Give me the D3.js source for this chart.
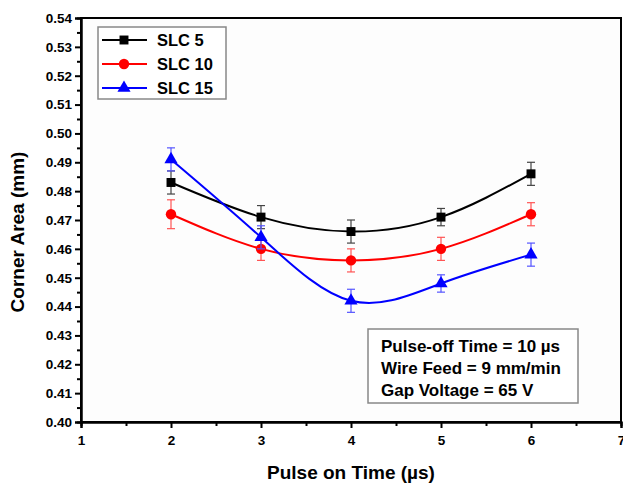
<!DOCTYPE html>
<html>
<head>
<meta charset="utf-8">
<script src="https://cdn.jsdelivr.net/npm/d3@7"></script>
<style>
  body { margin: 0; background: #fff; }
  text { font-family: "Liberation Sans", Arial, sans-serif; font-weight: bold; }
</style>
</head>
<body>
<svg id="chart" width="623" height="486"></svg>
<script>
// data
const pulseOn = [2, 3, 4, 5, 6];
const slc5 = [0.483, 0.471, 0.466, 0.471, 0.486];
const slc5Err = [0.004, 0.004, 0.004, 0.003, 0.004];
const slc10 = [0.472, 0.460, 0.456, 0.460, 0.472];
const slc10Err = [0.005, 0.004, 0.004, 0.004, 0.004];
const slc15 = [0.491, 0.464, 0.442, 0.448, 0.458];
const slc15Err = [0.004, 0.004, 0.004, 0.003, 0.004];
const xTicks = [1, 2, 3, 4, 5, 6, 7];
const yTicks = [0.40, 0.41, 0.42, 0.43, 0.44, 0.45, 0.46, 0.47, 0.48, 0.49, 0.50, 0.51, 0.52, 0.53, 0.54];
const notes = ["Pulse-off Time = 10 \u00b5s", "Wire Feed = 9 mm/min", "Gap Voltage = 65 V"];

const series = [
  { name: "SLC 5", values: slc5, err: slc5Err, color: "#000000", errColor: "#444", symbol: d3.symbolSquare, size: 80 },
  { name: "SLC 10", values: slc10, err: slc10Err, color: "#ff0000", errColor: "#ff5555", symbol: d3.symbolCircle, size: 85 },
  { name: "SLC 15", values: slc15, err: slc15Err, color: "#0000ff", errColor: "#5555ff", symbol: d3.symbolTriangle, size: 75 }
];

const margin = { top: 18, right: 2, bottom: 64, left: 81 };
const width = 623 - margin.left - margin.right;
const height = 486 - margin.top - margin.bottom;

const svg = d3.select("#chart");
const g = svg.append("g").attr("transform", `translate(${margin.left},${margin.top})`);

const x = d3.scaleLinear().domain([1, 7]).range([0, width]);
const y = d3.scaleLinear().domain([0.40, 0.54]).range([height, 0]);

// frame
g.append("rect")
  .attr("width", width).attr("height", height)
  .attr("fill", "#fdfdfd").attr("stroke", "#000").attr("stroke-width", 2);

// axes
const xAxis = g.append("g").attr("transform", `translate(0,${height})`)
  .call(d3.axisBottom(x).tickValues(xTicks).tickFormat(d3.format("d")).tickSize(6).tickPadding(7));
const xMinor = g.append("g").attr("transform", `translate(0,${height})`)
  .call(d3.axisBottom(x).tickValues(d3.range(1.5, 7, 1)).tickFormat("").tickSize(4));
const yAxis = g.append("g")
  .call(d3.axisLeft(y).tickValues(yTicks).tickFormat(d3.format(".2f")).tickSize(6).tickPadding(3));
const yMinor = g.append("g")
  .call(d3.axisLeft(y).tickValues(d3.range(0.405, 0.54, 0.01)).tickFormat("").tickSize(4));

[xAxis, xMinor, yAxis, yMinor].forEach(a => {
  a.select(".domain").attr("stroke-width", 2);
  a.selectAll(".tick line").attr("stroke-width", 2);
  a.selectAll("text")
    .attr("font-family", "'DejaVu Sans', sans-serif")
    .attr("font-size", 13.5).attr("fill", "#000");
});

// titles
svg.append("text")
  .attr("x", margin.left + x(4)).attr("y", 479)
  .attr("text-anchor", "middle").attr("font-size", 19)
  .text("Pulse on Time (\u00b5s)");
svg.append("text")
  .attr("transform", `translate(24,${margin.top + height / 2 + 12}) rotate(-90)`)
  .attr("text-anchor", "middle").attr("font-size", 19)
  .text("Corner Area (mm)");

const line = d3.line()
  .x((d, i) => x(pulseOn[i]))
  .y(d => y(d))
  .curve(d3.curveNatural);

series.forEach(s => {
  g.append("path")
    .datum(s.values)
    .attr("fill", "none")
    .attr("stroke", s.color)
    .attr("stroke-width", 2)
    .attr("d", line);

  // error bars
  const eb = g.append("g").attr("stroke", s.errColor).attr("stroke-width", 1.2);
  s.values.forEach((v, i) => {
    const cx = x(pulseOn[i]);
    const y0 = y(v - s.err[i]), y1 = y(v + s.err[i]);
    eb.append("line").attr("x1", cx).attr("x2", cx).attr("y1", y0).attr("y2", y1);
    eb.append("line").attr("x1", cx - 4).attr("x2", cx + 4).attr("y1", y0).attr("y2", y0);
    eb.append("line").attr("x1", cx - 4).attr("x2", cx + 4).attr("y1", y1).attr("y2", y1);
  });

  g.selectAll(null)
    .data(s.values)
    .join("path")
    .attr("transform", (d, i) => `translate(${x(pulseOn[i])},${y(d)})`)
    .attr("d", d3.symbol().type(s.symbol).size(s.size))
    .attr("fill", s.color);
});

// legend
const legend = svg.append("g").attr("transform", "translate(98,27)");
legend.append("rect")
  .attr("width", 128).attr("height", 72)
  .attr("fill", "#fff").attr("stroke", "#888").attr("stroke-width", 1.5);
series.forEach((s, i) => {
  const ly = 13 + i * 24;
  legend.append("line")
    .attr("x1", 4).attr("x2", 49).attr("y1", ly).attr("y2", ly)
    .attr("stroke", s.color).attr("stroke-width", 2);
  legend.append("path")
    .attr("transform", `translate(26,${ly})`)
    .attr("d", d3.symbol().type(s.symbol).size(s.size))
    .attr("fill", s.color);
  legend.append("text")
    .attr("x", 59).attr("y", ly + 6)
    .attr("font-size", 16.5)
    .text(s.name);
});

// condition note
const note = svg.append("g").attr("transform", "translate(368,329)");
note.append("rect")
  .attr("width", 210).attr("height", 74)
  .attr("fill", "#fff").attr("stroke", "#888").attr("stroke-width", 1.5);
notes.forEach((t, i) => {
  note.append("text")
    .attr("x", 13).attr("y", 23 + i * 22)
    .attr("font-size", 17)
    .text(t);
});
</script>
</body>
</html>
